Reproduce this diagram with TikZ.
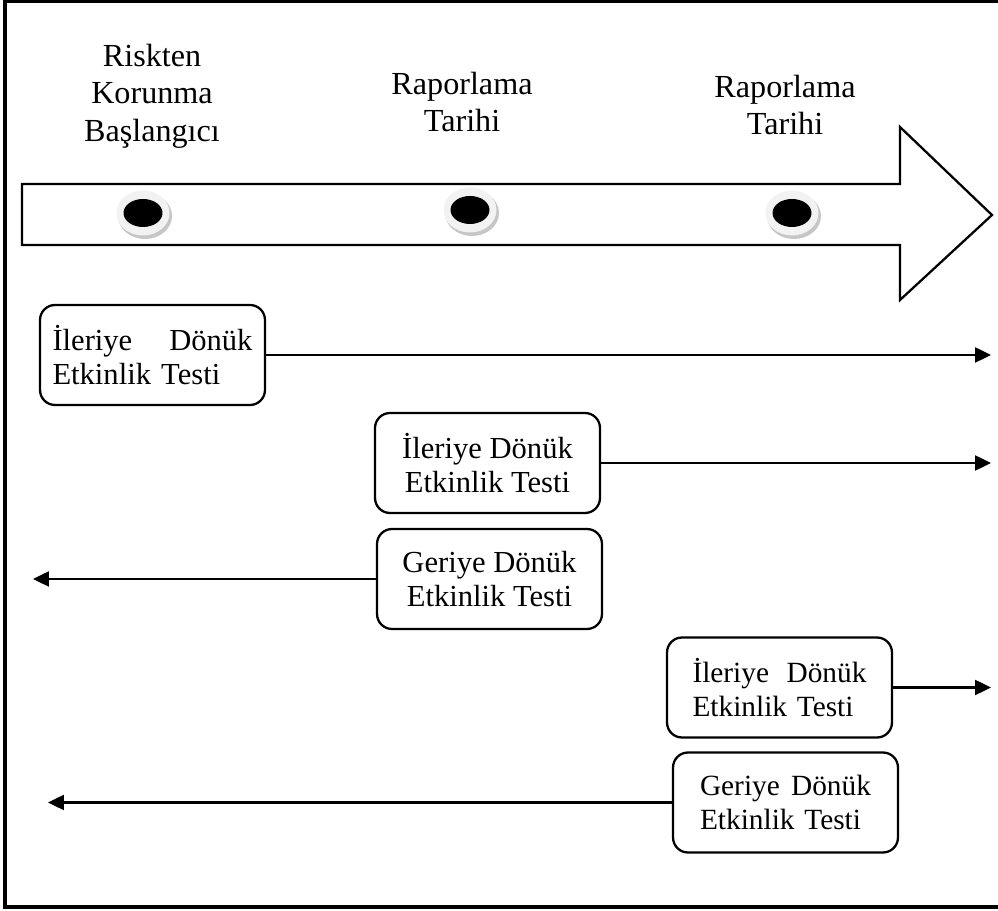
\documentclass[tikz,border=0pt]{standalone}
\usepackage{fontspec}
\setmainfont{Liberation Serif}
\usepackage{tikz}
\usetikzlibrary{arrows.meta}
\usetikzlibrary{positioning}

\begin{document}
\begin{tikzpicture}[x=0.02cm, y=-0.02cm,
    datelabel/.style={align=center, inner sep=0pt, font=\fontsize{18.3}{21.3}\selectfont},
    testbox/.style={draw, line width=1.3pt, rounded corners=0.3cm, minimum width=4.5cm,
      minimum height=2cm, inner sep=0pt, font=\fontsize{17.4}{18.9}\selectfont},
    smallbox/.style={testbox, font=\fontsize{16.7}{18.9}\selectfont},
    testline/.style={line width=1.4pt, -{Triangle[length=0.32cm, width=0.3cm]}}]
      \useasboundingbox (0,0) rectangle (998,911);
      \draw[line width=2pt] (1000,1) -- (5,1) -- (5,907) -- (1000,907);

      \draw[line width=1.3pt, fill=white] (22,184) -- (900,184) -- (900,127) -- (992,215)
        -- (900,300) -- (900,245) -- (22,245) -- cycle;

      \foreach \x/\y [count=\i] in {143/213, 470/210, 792/213} {
        \fill[gray!45] (\x+2,\y+3) ellipse [x radius=0.54cm, y radius=0.46cm];
        \fill[gray!10] (\x,\y) ellipse [x radius=0.53cm, y radius=0.45cm];
        \fill[black] (\x,\y) ellipse [x radius=0.39cm, y radius=0.28cm];
        \coordinate (dot\i) at (\x,\y);
      }

      \node[datelabel] (start) at (152,96) {Riskten\\Korunma\\Başlangıcı};
      \node[datelabel] (report1) at (462,102) {Raporlama\\Tarihi};
      \node[datelabel] (report2) at (785,105) {Raporlama\\Tarihi};

      \node[testbox, text width=4cm, align=left] (fwd1) at (152.5,355) {İleriye\hfill Dönük\\Etkinlik Testi};
      \node[testbox, align=center] (fwd2) at (487.5,463) {İleriye Dönük\\Etkinlik Testi};
      \node[testbox, align=center] (back1) at (489.5,579) {Geriye Dönük\\Etkinlik Testi};
      \node[smallbox, text width=3.48cm, align=left] (fwd3) at (779.5,687.5) {İleriye\hfill Dönük\\Etkinlik Testi};
      \node[smallbox, text width=3.42cm, align=left] (back2) at (785.5,802.5) {Geriye\hfill Dönük\\Etkinlik Testi};

      \coordinate (rightend) at (991,0);
      \coordinate (leftend1) at (33,0);
      \coordinate (leftend2) at (48,0);

      \draw[testline] (fwd1.east) -- (fwd1.east -| rightend);
      \draw[testline] (fwd2.east) -- (fwd2.east -| rightend);
      \draw[testline] (back1.west) -- (back1.west -| leftend1);
      \draw[testline] (fwd3.east) -- (fwd3.east -| rightend);
      \draw[testline] (back2.west) -- (back2.west -| leftend2);
\end{tikzpicture}
\end{document}
